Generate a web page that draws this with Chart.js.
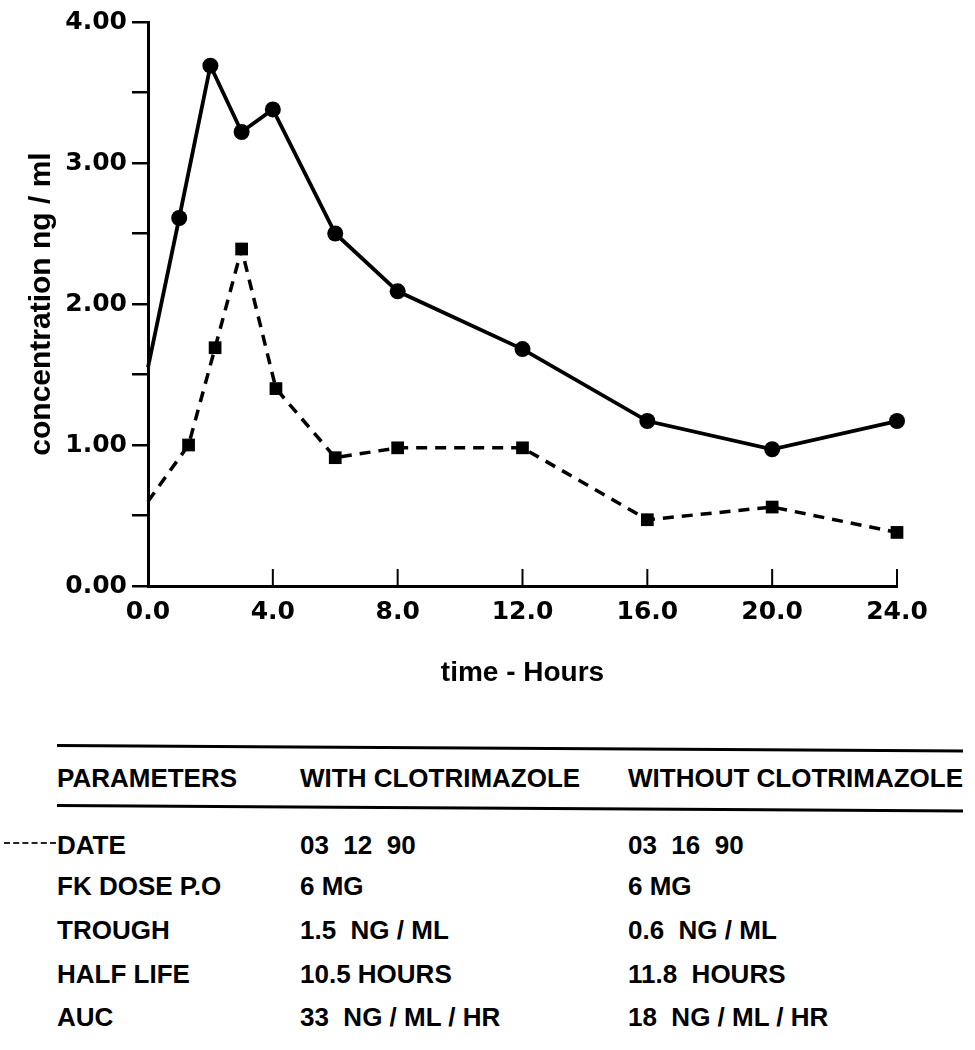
<!DOCTYPE html>
<html>
<head>
<meta charset="utf-8">
<title>FK concentration with and without clotrimazole</title>
<script src="https://cdn.jsdelivr.net/npm/chart.js@4.4.0/dist/chart.umd.min.js"></script>
<style>
    html, body { margin: 0; padding: 0; background: #fff; }
    #page { position: relative; width: 975px; height: 1050px; overflow: hidden; }
    #chart { position: absolute; left: 0; top: 0; }
    .rule { position: absolute; left: 57px; width: 906px; height: 3px; background: #000; transform-origin: 0 50%; }
    .cell { position: absolute; font-family: "Liberation Sans", Arial, sans-serif; font-weight: bold; font-size: 26px; color: #000; white-space: pre; line-height: 1; transform: translateY(-50%); }
    .scrap { position: absolute; left: 4px; top: 842px; width: 52px; border-top: 2px dashed #222; }
</style>
</head>
<body>
<div id="page">
    <canvas id="chart" width="975" height="700"></canvas>
    <div id="table"></div>
</div>
<script>
// sampling times (hours) and concentrations (ng/ml)
const hoursWith = [0, 1, 2, 3, 4, 6, 8, 12, 16, 20, 24];
const concWith = [1.55, 2.61, 3.69, 3.22, 3.38, 2.50, 2.09, 1.68, 1.17, 0.97, 1.17];
const hoursWithout = [0, 1.3, 2.15, 3.0, 4.1, 6, 8, 12, 16, 20, 24];
const concWithout = [0.6, 1.0, 1.69, 2.39, 1.40, 0.91, 0.98, 0.98, 0.47, 0.56, 0.38];

const xTicks = [0, 4, 8, 12, 16, 20, 24];
const yTicks = [0, 1, 2, 3, 4];

const tableHeader = ['PARAMETERS', 'WITH CLOTRIMAZOLE', 'WITHOUT CLOTRIMAZOLE'];
const tableRows = [
    ['DATE', '03  12  90', '03  16  90'],
    ['FK DOSE P.O', '6 MG', '6 MG'],
    ['TROUGH', '1.5  NG / ML', '0.6  NG / ML'],
    ['HALF LIFE', '10.5 HOURS', '11.8  HOURS'],
    ['AUC', '33  NG / ML / HR', '18  NG / ML / HR']
];

function toPoints(xs, ys) {
    return xs.map((x, i) => ({ x: x, y: ys[i] }));
}

// x ticks on this plot point up into the plot area
const innerTicks = {
    id: 'innerTicks',
    afterDraw(chart) {
        const { ctx, chartArea } = chart;
        const x = chart.scales.x;
        ctx.save();
        ctx.strokeStyle = '#000';
        ctx.lineWidth = 2;
        xTicks.forEach(v => {
            const px = x.getPixelForValue(v);
            ctx.beginPath();
            ctx.moveTo(px, chartArea.bottom);
            ctx.lineTo(px, chartArea.bottom - 17);
            ctx.stroke();
        });
        ctx.restore();
    }
};

const labelFont = { family: '"DejaVu Sans", sans-serif', weight: 'bold', size: 25 };

new Chart(document.getElementById('chart'), {
    type: 'line',
    data: {
        datasets: [
            {
                label: 'with clotrimazole',
                data: toPoints(hoursWith, concWith),
                borderColor: '#000',
                backgroundColor: '#000',
                borderWidth: 3.8,
                pointStyle: 'circle',
                pointRadius: hoursWith.map(h => h === 0 ? 0 : 8),
                pointBorderWidth: 0,
                tension: 0,
                clip: false
            },
            {
                label: 'without clotrimazole',
                data: toPoints(hoursWithout, concWithout),
                borderColor: '#000',
                backgroundColor: '#000',
                borderWidth: 3.5,
                borderDash: [11, 8],
                pointStyle: 'rect',
                pointRadius: hoursWithout.map(h => h === 0 ? 0 : 9),
                pointBorderWidth: 0,
                tension: 0,
                clip: false
            }
        ]
    },
    options: {
        responsive: false,
        animation: false,
        layout: { padding: { top: 22, right: 78, left: 0, bottom: 0 } },
        plugins: {
            legend: { display: false },
            tooltip: { enabled: false }
        },
        scales: {
            x: {
                type: 'linear',
                min: 0,
                max: 24,
                afterFit: s => { s.height = 114; },
                afterBuildTicks: s => { s.ticks = xTicks.map(v => ({ value: v })); },
                ticks: {
                    callback: v => v.toFixed(1),
                    font: labelFont,
                    color: '#000',
                    padding: 11,
                    maxRotation: 0
                },
                grid: { display: true, drawOnChartArea: false, drawTicks: false },
                border: { display: true, color: '#000', width: 3 },
                title: {
                    display: true,
                    text: 'time - Hours',
                    font: { family: '"Liberation Sans", Arial, sans-serif', weight: 'bold', size: 28 },
                    color: '#000',
                    padding: { top: 0, bottom: 10 }
                }
            },
            y: {
                type: 'linear',
                min: 0,
                max: 4,
                afterFit: s => { s.width = 148; },
                ticks: {
                    stepSize: 0.5,
                    callback: v => yTicks.includes(v) ? v.toFixed(2) : '',
                    font: labelFont,
                    color: '#000',
                    padding: 5
                },
                grid: { display: true, drawOnChartArea: false, drawTicks: true, tickLength: 16, lineWidth: 2.5, color: '#000' },
                border: { display: true, color: '#000', width: 3 },
                title: {
                    display: true,
                    text: 'concentration ng / ml',
                    font: { family: '"Liberation Sans", Arial, sans-serif', weight: 'bold', size: 30 },
                    color: '#000',
                    padding: { top: 24, bottom: 0 }
                }
            }
        }
    },
    plugins: [innerTicks]
});

// parameter table under the plot
const table = document.getElementById('table');
const colX = [57, 300, 628];
const rowY = [845, 886, 930, 974, 1017];

function addCell(text, x, y) {
    const d = document.createElement('div');
    d.className = 'cell';
    d.style.left = x + 'px';
    d.style.top = y + 'px';
    d.textContent = text;
    table.appendChild(d);
}

function addRule(y) {
    const r = document.createElement('div');
    r.className = 'rule';
    r.style.top = y + 'px';
    r.style.transform = 'rotate(0.35deg)';
    table.appendChild(r);
}

addRule(744);
addRule(804);
tableHeader.forEach((t, i) => addCell(t, colX[i], 778));
tableRows.forEach((row, r) => row.forEach((t, i) => addCell(t, colX[i], rowY[r])));

const scrap = document.createElement('div');
scrap.className = 'scrap';
table.appendChild(scrap);
</script>
</body>
</html>
